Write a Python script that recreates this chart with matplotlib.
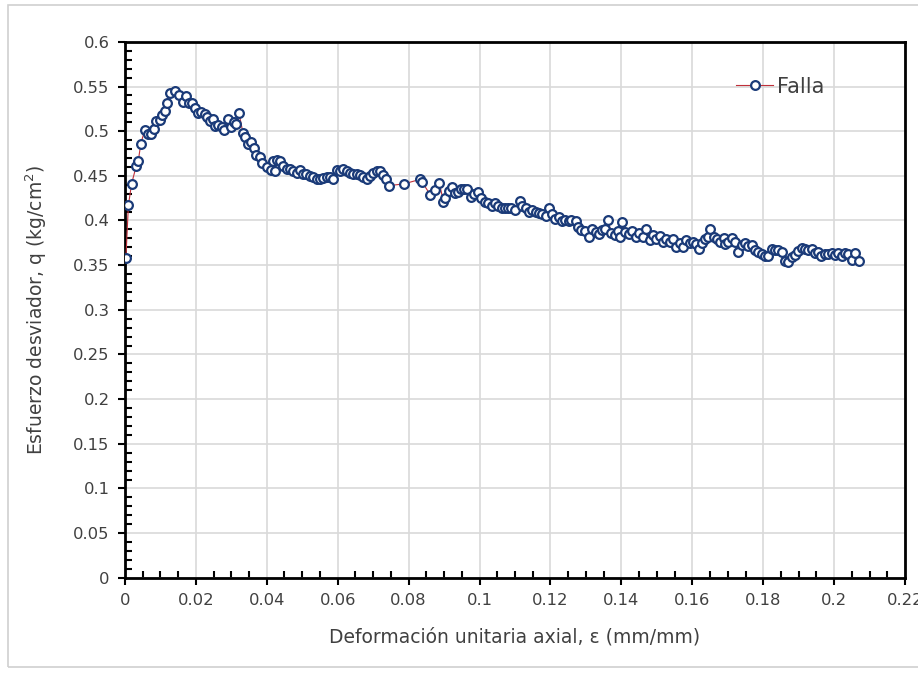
import matplotlib.pyplot as plt
from matplotlib.ticker import MultipleLocator
from matplotlib.patches import Rectangle

# deformacion unitaria axial (mm/mm)
strain = [
    0.0003, 0.0010, 0.0019, 0.0032, 0.0038, 0.0045, 0.0056, 0.0066, 0.0073, 0.0081,
    0.0088, 0.0098, 0.0105, 0.0113, 0.0120, 0.0128, 0.0141, 0.0154, 0.0164, 0.0173,
    0.0180, 0.0190, 0.0199, 0.0205, 0.0216, 0.0226, 0.0233, 0.0241, 0.0248, 0.0254,
    0.0263, 0.0273, 0.0280, 0.0290, 0.0299, 0.0308, 0.0314, 0.0322, 0.0333, 0.0340,
    0.0348, 0.0357, 0.0365, 0.0370, 0.0380, 0.0387, 0.0400, 0.0412, 0.0419, 0.0424,
    0.0428, 0.0437, 0.0447, 0.0456, 0.0465, 0.0475, 0.0484, 0.0494, 0.0503, 0.0512,
    0.0522, 0.0531, 0.0541, 0.0550, 0.0560, 0.0569, 0.0578, 0.0588, 0.0597, 0.0607,
    0.0616, 0.0625, 0.0635, 0.0644, 0.0654, 0.0663, 0.0672, 0.0682, 0.0691, 0.0700,
    0.0710, 0.0719, 0.0729, 0.0736, 0.0744, 0.0787, 0.0832, 0.0838, 0.0861, 0.0874,
    0.0887, 0.0898, 0.0904, 0.0913, 0.0923, 0.0930, 0.0938, 0.0947, 0.0957, 0.0966,
    0.0975, 0.0983, 0.0996, 0.1005, 0.1015, 0.1024, 0.1034, 0.1043, 0.1053, 0.1062,
    0.1071, 0.1081, 0.1090, 0.1100, 0.1113, 0.1120, 0.1130, 0.1139, 0.1149, 0.1158,
    0.1168, 0.1177, 0.1186, 0.1196, 0.1205, 0.1214, 0.1224, 0.1233, 0.1242, 0.1252,
    0.1259, 0.1272, 0.1278, 0.1287, 0.1298, 0.1308, 0.1317, 0.1327, 0.1336, 0.1346,
    0.1353, 0.1362, 0.1372, 0.1381, 0.1390, 0.1396, 0.1402, 0.1411, 0.1421, 0.1430,
    0.1440, 0.1449, 0.1460, 0.1470, 0.1480, 0.1489, 0.1498, 0.1508, 0.1517, 0.1527,
    0.1536, 0.1545, 0.1555, 0.1564, 0.1574, 0.1583, 0.1593, 0.1602, 0.1611, 0.1618,
    0.1628, 0.1637, 0.1645, 0.1650, 0.1660, 0.1669, 0.1678, 0.1688, 0.1692, 0.1701,
    0.1711, 0.1720, 0.1729, 0.1739, 0.1748, 0.1757, 0.1767, 0.1776, 0.1786, 0.1795,
    0.1805, 0.1814, 0.1824, 0.1833, 0.1842, 0.1852, 0.1861, 0.1871, 0.1880, 0.1889,
    0.1899, 0.1908, 0.1918, 0.1927, 0.1936, 0.1946, 0.1955, 0.1964, 0.1974, 0.1983,
    0.1993, 0.2002, 0.2012, 0.2021, 0.2031, 0.2040, 0.2050, 0.2059, 0.2069,
]

# esfuerzo desviador q (kg/cm2)
q = [
    0.358, 0.417, 0.441, 0.461, 0.467, 0.486, 0.501, 0.497, 0.497, 0.502,
    0.511, 0.513, 0.518, 0.523, 0.531, 0.543, 0.545, 0.541, 0.533, 0.539,
    0.531, 0.532, 0.526, 0.520, 0.521, 0.519, 0.516, 0.511, 0.514, 0.506,
    0.507, 0.505, 0.501, 0.514, 0.505, 0.510, 0.508, 0.520, 0.498, 0.493,
    0.486, 0.488, 0.481, 0.473, 0.471, 0.464, 0.460, 0.457, 0.467, 0.455,
    0.468, 0.467, 0.461, 0.458, 0.458, 0.455, 0.453, 0.457, 0.452, 0.452,
    0.450, 0.449, 0.446, 0.447, 0.448, 0.449, 0.449, 0.447, 0.457, 0.455,
    0.458, 0.455, 0.453, 0.452, 0.452, 0.451, 0.449, 0.447, 0.450, 0.453,
    0.455, 0.455, 0.451, 0.446, 0.439, 0.441, 0.446, 0.443, 0.429, 0.434,
    0.442, 0.421, 0.425, 0.433, 0.438, 0.431, 0.432, 0.435, 0.435, 0.435,
    0.426, 0.430, 0.432, 0.425, 0.421, 0.420, 0.416, 0.420, 0.416, 0.414,
    0.414, 0.414, 0.414, 0.412, 0.422, 0.416, 0.414, 0.409, 0.412, 0.410,
    0.408, 0.407, 0.405, 0.414, 0.407, 0.402, 0.404, 0.399, 0.400, 0.399,
    0.400, 0.399, 0.393, 0.389, 0.388, 0.381, 0.390, 0.387, 0.385, 0.389,
    0.391, 0.400, 0.386, 0.384, 0.388, 0.382, 0.398, 0.387, 0.385, 0.388,
    0.382, 0.386, 0.381, 0.390, 0.378, 0.384, 0.379, 0.383, 0.376, 0.379,
    0.376, 0.379, 0.370, 0.375, 0.370, 0.378, 0.375, 0.376, 0.374, 0.368,
    0.375, 0.379, 0.382, 0.390, 0.382, 0.379, 0.376, 0.380, 0.374, 0.376,
    0.380, 0.376, 0.365, 0.373, 0.375, 0.372, 0.373, 0.367, 0.365, 0.363,
    0.360, 0.360, 0.368, 0.367, 0.367, 0.365, 0.355, 0.354, 0.359, 0.361,
    0.366, 0.369, 0.368, 0.367, 0.368, 0.364, 0.365, 0.360, 0.363, 0.362,
    0.364, 0.361, 0.364, 0.360, 0.364, 0.362, 0.356, 0.364, 0.355,
]

plt.rcParams['font.family'] = ['DejaVu Sans']

fig = plt.figure(figsize=(9.18, 6.75), dpi=100)
ax = fig.add_axes([0.136, 0.144, 0.850, 0.794])

# marco gris de la figura
fig.patches.append(Rectangle((8/918, 8/675), 1.0, 1.0 - 13/675, transform=fig.transFigure,
                             fill=False, edgecolor='#d0d0d0', lw=1.2))

ax.plot(strain, q, color='#c0303a', lw=0.8, marker='o', markersize=6.3,
        markerfacecolor='white', markeredgecolor='#1a3a78', markeredgewidth=1.6,
        label='Falla', zorder=3)

ax.set_xlim(0, 0.22)
ax.set_ylim(0, 0.6)
ax.xaxis.set_minor_locator(MultipleLocator(0.005))
ax.yaxis.set_minor_locator(MultipleLocator(0.01))
ax.set_xticks([i*0.02 for i in range(12)])
ax.set_xticklabels(['0', '0.02', '0.04', '0.06', '0.08', '0.1', '0.12', '0.14', '0.16', '0.18', '0.2', '0.22'])
ax.set_yticks([i*0.05 for i in range(13)])
ax.set_yticklabels(['0', '0.05', '0.1', '0.15', '0.2', '0.25', '0.3', '0.35', '0.4', '0.45', '0.5', '0.55', '0.6'])

ax.grid(True, which='major', color='#d9d9d9', lw=1.2)
ax.set_axisbelow(True)
for s in ax.spines.values():
    s.set_linewidth(2)
    s.set_color('black')
ax.tick_params(which='major', direction='out', length=5, width=1.5, labelsize=11.8,
               colors='black', labelcolor='#404040', pad=6)
ax.tick_params(which='minor', direction='in', length=5, width=1.5)

ax.set_xlabel('Deformación unitaria axial, ε (mm/mm)', fontsize=13.5, color='#404040', labelpad=14)
ax.set_ylabel('Esfuerzo desviador, q (kg/cm$^2$)', fontsize=13.5, color='#404040', labelpad=17)

ax.legend(loc='upper right', bbox_to_anchor=(0.92, 0.97), frameon=False, fontsize=15,
          handlelength=1.8, handletextpad=0.15, labelcolor='#404040')

fig.savefig('out.png', dpi=100)
